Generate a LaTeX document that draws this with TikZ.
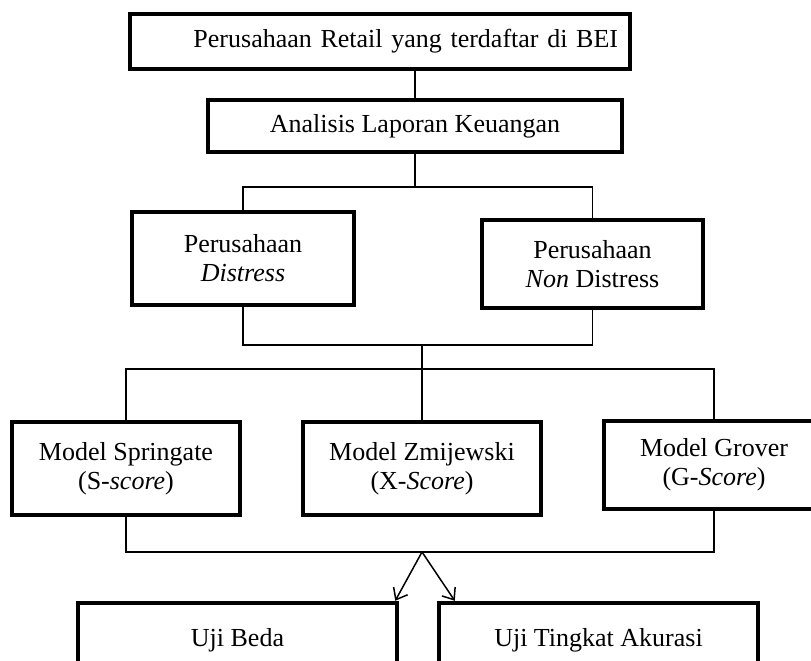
\documentclass[tikz,border=0pt]{standalone}
\usepackage{fontspec}
\setmainfont{Liberation Serif}
\usetikzlibrary{arrows.meta}

\tikzset{
  blok/.style={draw, line width=4.5pt, align=center, inner sep=0pt,
    font=\fontsize{26}{29}\selectfont},
  garis/.style={line width=1.5pt},
  panah/.style={garis, -{Straight Barb[length=10pt,width=16pt]}}
}

\begin{document}
\begin{tikzpicture}[x=1pt,y=-1pt]
  \path[use as bounding box, clip] (0,0) rectangle (811,661);
  % kotak
  \node[blok, minimum width=500, minimum height=55, text width=476, align=right, inner xsep=12] (retail) at (380,41.5) {Perusahaan Retail yang terdaftar di BEI};
  \node[blok, minimum width=414, minimum height=52] (analisis) at (415,126) {Analisis Laporan Keuangan};
  \node[blok, minimum width=222, minimum height=93] (distress) at (243,258.5) {Perusahaan\\\textit{Distress}};
  \node[blok, minimum width=221, minimum height=88] (nondistress) at (592.5,264) {Perusahaan\\\textit{Non} Distress};
  \node[blok, minimum width=228, minimum height=93] (springate) at (126,468.5) {Model Springate\\(S-\textit{score})};
  \node[blok, minimum width=238, minimum height=93] (zmijewski) at (422,468.5) {Model Zmijewski\\(X-\textit{Score})};
  \node[blok, minimum width=220, minimum height=88] (grover) at (714,465) {Model Grover\\(G-\textit{Score})};
  \node[blok, minimum width=319, minimum height=74] (beda) at (237.5,640) {Uji Beda};
  \node[blok, minimum width=319, minimum height=74] (akurasi) at (598.5,640) {Uji Tingkat Akurasi};
  % cabang
  \coordinate (bar1) at (0,187);
  \coordinate (bar2) at (0,345);
  \coordinate (bar3) at (0,369);
  \coordinate (bar4) at (0,552);
  \draw[garis] (analisis.north) -- (analisis.north |- retail.south);
  \draw[garis] (analisis.south) -- (analisis.south |- bar1);
  \draw[garis] (distress.north) |- (nondistress.north |- bar1) -- (nondistress.north);
  \draw[garis] (distress.south) |- (nondistress.south |- bar2) -- (nondistress.south);
  \draw[garis] (zmijewski.north |- bar2) -- (zmijewski.north);
  \draw[garis] (springate.north) |- (grover.north |- bar3) -- (grover.north);
  \draw[garis] (springate.south) |- (grover.south |- bar4) -- (grover.south);
  \coordinate (split) at (zmijewski.south |- bar4);
  \draw[panah] (split) -- ([xshift=-4]beda.north east);
  \draw[panah] (split) -- ([xshift=18]akurasi.north west);
\end{tikzpicture}
\end{document}
